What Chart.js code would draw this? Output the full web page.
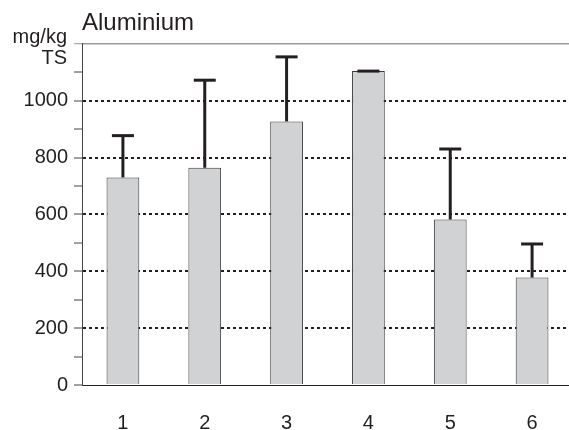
<!DOCTYPE html>
<html>
<head>
<meta charset="utf-8">
<script src="https://cdn.jsdelivr.net/npm/chart.js@4"></script>
<style>
  html, body { margin: 0; padding: 0; background: #fff; overflow: hidden; }
  #wrap { width: 576px; height: 430px; }
</style>
</head>
<body>
<div id="wrap"><canvas id="myChart"></canvas></div>
<script>
var categories = ['1', '2', '3', '4', '5', '6']
var means = [730, 764, 927, 1104, 582, 378]
var errors = [147, 308, 227, 0, 248, 118]
var yTicks = [0, 200, 400, 600, 800, 1000]
var unitLines = ['mg/kg', 'TS']

var FONT = "'Liberation Sans', Arial, Helvetica, sans-serif"

// upper whiskers only
var errorBars = {
    id: 'errorBars',
    afterDatasetsDraw: function (chart) {
        var ctx = chart.ctx
        var meta = chart.getDatasetMeta(0)
        var y = chart.scales.y
        ctx.save()
        ctx.strokeStyle = '#231f20'
        ctx.lineWidth = 3
        for (var i = 0; i < means.length; i++) {
            var x = meta.data[i].x
            var y0 = y.getPixelForValue(means[i])
            var y1 = y.getPixelForValue(means[i] + errors[i])
            ctx.beginPath()
            ctx.moveTo(x, y0)
            ctx.lineTo(x, y1)
            ctx.stroke()
            ctx.beginPath()
            ctx.moveTo(x - 11, y1)
            ctx.lineTo(x + 11, y1)
            ctx.stroke()
        }
        ctx.restore()
    }
}

var unitLabel = {
    id: 'unitLabel',
    afterDraw: function (chart) {
        var ctx = chart.ctx
        ctx.save()
        ctx.fillStyle = '#231f20'
        ctx.font = '20px ' + FONT
        ctx.textAlign = 'right'
        ctx.textBaseline = 'alphabetic'
        ctx.fillText(unitLines[0], 67, 43)
        ctx.fillText(unitLines[1], 67, 64)
        ctx.restore()
    }
}

let myChart = document.getElementById('myChart').getContext('2d')
let alChart = new Chart(myChart, {
    type: 'bar',
    data: {
        labels: categories,
        datasets: [{
            data: means,
            backgroundColor: '#d1d2d4',
            borderColor: '#3a3a3a',
            borderWidth: 1,
            barPercentage: 1,
            categoryPercentage: 0.4
        }]
    },
    options: {
        responsive: true,
        maintainAspectRatio: false,
        animation: false,
        layout: { padding: { left: 0, right: 3, top: 0, bottom: 0 } },
        plugins: {
            legend: { display: false },
            tooltip: { enabled: false },
            title: {
                display: true,
                text: 'Aluminium',
                align: 'start',
                fullSize: false,
                color: '#231f20',
                font: { family: FONT, size: 24, weight: 'normal' },
                padding: { top: 9, bottom: 6 }
            }
        },
        scales: {
            x: {
                afterFit: function (scale) { scale.height = 45 },
                grid: { display: false, drawTicks: false },
                border: { display: true, color: '#231f20', width: 1 },
                ticks: {
                    color: '#231f20',
                    font: { family: FONT, size: 20 },
                    padding: 26
                }
            },
            y: {
                min: 0,
                max: 1200,
                afterFit: function (scale) { scale.width = 82 },
                ticks: {
                    stepSize: 100,
                    autoSkip: false,
                    color: '#231f20',
                    font: { family: FONT, size: 20 },
                    padding: 6,
                    callback: function (v) {
                        return yTicks.includes(v) ? String(v) : ''
                    }
                },
                grid: {
                    tickLength: 8,
                    tickColor: function (c) { return c.tick.value === 1200 ? '#999' : '#444' },
                    tickWidth: 1,
                    lineWidth: function (c) { return c.tick.value === 1200 ? 1.5 : 2 },
                    color: function (c) {
                        var v = c.tick.value
                        if (v === 1200) return '#999'
                        if (v > 0 && v % 200 === 0) return '#231f20'
                        return 'rgba(0,0,0,0)'
                    }
                },
                border: {
                    display: true,
                    color: '#444',
                    width: 1,
                    dash: function (c) { return c.tick && c.tick.value === 1200 ? [] : [3, 3] }
                }
            }
        }
    },
    plugins: [errorBars, unitLabel]
});
</script>
</body>
</html>
